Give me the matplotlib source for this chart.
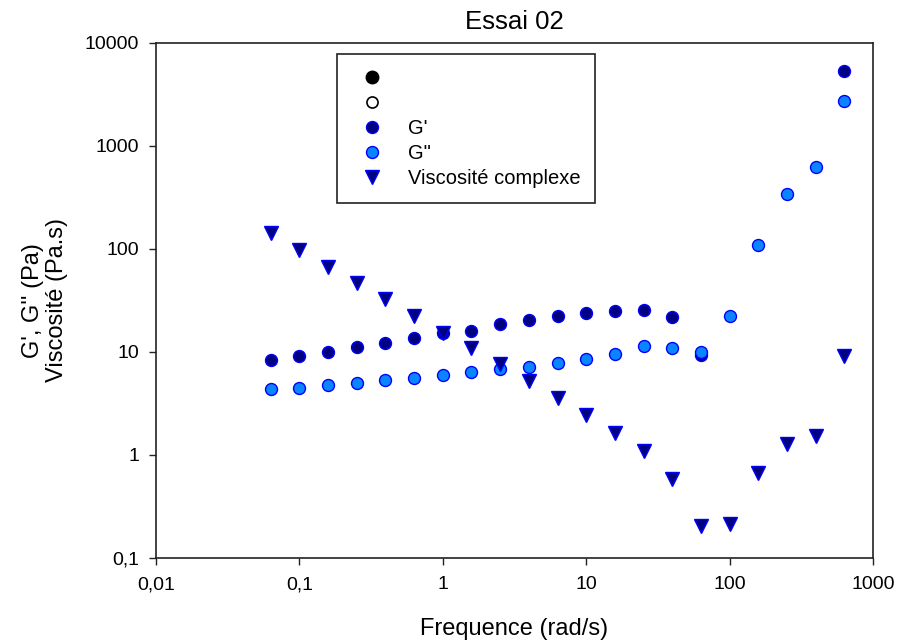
import matplotlib
matplotlib.use("Agg")
import matplotlib.pyplot as plt
from matplotlib.ticker import FixedLocator, FixedFormatter, NullLocator
from matplotlib.lines import Line2D

plt.rcParams['font.family'] = ['Liberation Sans', 'DejaVu Sans']

freq = [0.0631, 0.1, 0.158, 0.251, 0.398, 0.631, 1.0, 1.585, 2.51, 3.98, 6.31,
        10.0, 15.85, 25.1, 39.8, 63.1, 100.0, 158.5, 251.0, 398.0, 631.0]

g_prime = [8.36, 9.15, 10.0, 11.2, 12.3, 13.7, 15.2, 16.1, 18.6, 20.3, 22.3,
           23.7, 25.2, 25.5, 21.8, 9.3, None, None, None, None, 5350]

g_second = [4.35, 4.51, 4.75, 5.0, 5.32, 5.64, 5.98, 6.36, 6.79, 7.2, 7.82,
            8.55, 9.57, 11.4, 10.9, 9.9, 22.3, 109, 339, 622, 2720]

viscosity = [143.6, 97.6, 67.1, 47.0, 32.5, 22.3, 15.4, 10.9, 7.6, 5.23, 3.58,
             2.45, 1.63, 1.08, 0.587, 0.205, 0.213, 0.667, 1.27, 1.51, 9.15]

x_ticks = [0.01, 0.1, 1, 10, 100, 1000]
x_ticklabels = ['0,01', '0,1', '1', '10', '100', '1000']
y_ticks = [0.1, 1, 10, 100, 1000, 10000]
y_ticklabels = ['0,1', '1', '10', '100', '1000', '10000']

legend_labels = ['', '', "G'", 'G"', 'Viscosité complexe']

fig = plt.figure(figsize=(8.99, 6.44), dpi=100)
ax = fig.add_axes([156/899, 1-558/644, (873-156)/899, (558-42.7)/644])

navy = '#000080'
light = '#0A84FF'
edge = '#0000FF'
ms = 8.6

gp_x = [f for f, v in zip(freq, g_prime) if v is not None]
gp_y = [v for v in g_prime if v is not None]
ax.plot(gp_x, gp_y, linestyle='none', marker='o', ms=ms, mfc=navy, mec=edge, mew=1.0, zorder=3)
ax.plot(freq, g_second, linestyle='none', marker='o', ms=ms, mfc=light, mec=edge, mew=1.0, zorder=4)
ax.plot(freq, viscosity, linestyle='none', marker='v', ms=9.5, mfc=navy, mec=edge, mew=1.0, zorder=5)

ax.set_xscale('log')
ax.set_yscale('log')
ax.set_xlim(0.01, 1000)
ax.set_ylim(0.1, 10000)
ax.xaxis.set_major_locator(FixedLocator(x_ticks))
ax.xaxis.set_major_formatter(FixedFormatter(x_ticklabels))
ax.yaxis.set_major_locator(FixedLocator(y_ticks))
ax.yaxis.set_major_formatter(FixedFormatter(y_ticklabels))
ax.xaxis.set_minor_locator(NullLocator())
ax.yaxis.set_minor_locator(NullLocator())
ax.tick_params(direction='out', length=5, width=1, labelsize=14, color='#222222')
ax.tick_params(axis='x', pad=8)
ax.tick_params(axis='y', pad=7)
for s in ax.spines.values():
    s.set_linewidth(1.2)
    s.set_color('#222222')

ax.set_title('Essai 02', fontsize=18.5, pad=10)
ax.set_xlabel('Frequence (rad/s)', fontsize=17, labelpad=18)
ax.set_ylabel("G', G'' (Pa)\nViscosité (Pa.s)", fontsize=17, linespacing=1.1)
ax.yaxis.set_label_coords((68-156)/717, 0.5)

handles = [
    Line2D([], [], linestyle='none', marker='o', ms=9, mfc='black', mec='black'),
    Line2D([], [], linestyle='none', marker='o', ms=8, mfc='white', mec='black', mew=1.2),
    Line2D([], [], linestyle='none', marker='o', ms=ms, mfc=navy, mec=edge, mew=1.0),
    Line2D([], [], linestyle='none', marker='o', ms=ms, mfc=light, mec=edge, mew=1.0),
    Line2D([], [], linestyle='none', marker='v', ms=9.5, mfc=navy, mec=edge, mew=1.0),
]
leg = ax.legend(handles, legend_labels, loc='upper left',
                bbox_to_anchor=((337-156)/717, (558-54)/515.3, (595-337)/717, 0.0),
                mode='expand', fontsize=14.5, frameon=True, fancybox=False,
                edgecolor='#222222', framealpha=1, borderpad=0.75,
                labelspacing=0.3, handletextpad=0.8, borderaxespad=0, handlelength=2.0)
leg.get_frame().set_linewidth(1.2)

fig.savefig('out.png', dpi=100)
